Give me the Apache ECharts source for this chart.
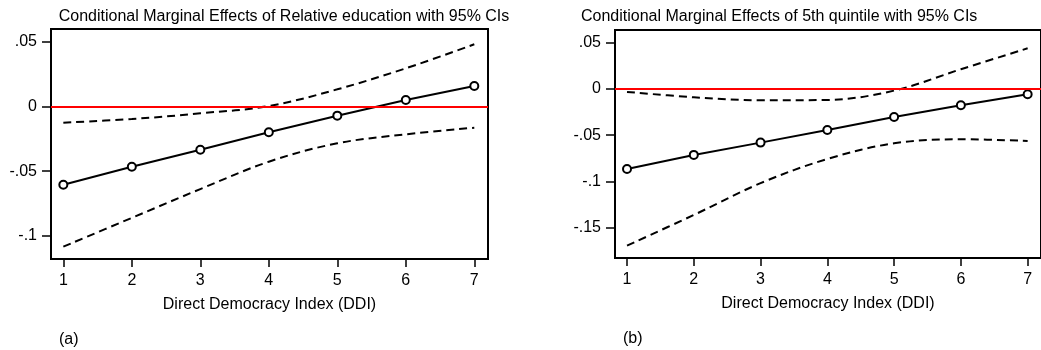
<!DOCTYPE html>
<html>
<head>
<meta charset="utf-8">
<script src="https://cdn.jsdelivr.net/npm/echarts@6/dist/echarts.min.js"></script>
<style>html,body{margin:0;padding:0;background:#fff}#c{width:1041px;height:350px}</style>
</head>
<body>
<div id="c"></div>
<script>
// DDI values (x)
const ddi = [1, 2, 3, 4, 5, 6, 7];
const xTicks = [1, 2, 3, 4, 5, 6, 7];

// Panel (a): Relative education
const titleA = "Conditional Marginal Effects of Relative education with 95% CIs";
const effectA = [-0.0605, -0.0466, -0.0335, -0.0200, -0.0072, 0.0049, 0.0157];
const upperA  = [-0.0126, -0.0098, -0.0054, 0.0002, 0.0131, 0.0293, 0.0478];
const lowerA  = [-0.1082, -0.0860, -0.0638, -0.0427, -0.0285, -0.0216, -0.0165];
const yTicksA = [-0.1, -0.05, 0, 0.05];

// Panel (b): 5th quintile
const titleB = "Conditional Marginal Effects of 5th quintile with 95% CIs";
const effectB = [-0.0866, -0.0714, -0.0581, -0.0444, -0.0303, -0.0177, -0.0058];
const upperB  = [-0.0032, -0.0090, -0.0123, -0.0119, -0.0018, 0.0213, 0.0440];
const lowerB  = [-0.1696, -0.1364, -0.1020, -0.0758, -0.0588, -0.0545, -0.0563];
const yTicksB = [-0.15, -0.1, -0.05, 0, 0.05];

const xName = "Direct Democracy Index (DDI)";
const refLine = 0;

const FONT = "Liberation Sans, Arial, sans-serif";
const FS = 16;
function fmt(v) {
  if (Math.abs(v) < 1e-9) return "0";
  let s = String(Math.round(v * 1000) / 1000);
  return s.replace(/^(-?)0\./, "$1.");
}
const pair = (xs, ys) => xs.map((x, i) => [x, ys[i]]);

function xAxis(gi) {
  return {
    type: "value", gridIndex: gi, min: 0.82, max: 7.2,
    name: xName, nameLocation: "middle", nameGap: 38,
    nameTextStyle: { fontFamily: FONT, fontSize: FS, color: "#000" },
    axisLine: { show: true, onZero: false, lineStyle: { color: "#000", width: 2 } },
    axisTick: { show: true, customValues: xTicks, length: 8, lineStyle: { color: "#000", width: 1.5 } },
    axisLabel: { customValues: xTicks, color: "#000", fontFamily: FONT, fontSize: FS, margin: 14 },
    splitLine: { show: false }
  };
}
function yAxis(gi, min, max, ticks) {
  return {
    type: "value", gridIndex: gi, min: min, max: max,
    axisLine: { show: true, onZero: false, lineStyle: { color: "#000", width: 2 } },
    axisTick: { show: true, customValues: ticks, length: 9, lineStyle: { color: "#000", width: 1.5 } },
    axisLabel: { customValues: ticks, formatter: fmt, color: "#000", fontFamily: FONT, fontSize: FS, margin: 14 },
    splitLine: { show: false }
  };
}
function seriesFor(gi, eff, up, lo) {
  const dashed = { color: "#000", width: 2, type: [8, 5] };
  return [
    { type: "line", xAxisIndex: gi, yAxisIndex: gi, data: pair(ddi, up), smooth: 0.35, symbol: "none",
      lineStyle: dashed, z: 3 },
    { type: "line", xAxisIndex: gi, yAxisIndex: gi, data: pair(ddi, lo), smooth: 0.35, symbol: "none",
      lineStyle: dashed, z: 3 },
    { type: "line", xAxisIndex: gi, yAxisIndex: gi, data: pair(ddi, eff), symbol: "circle", symbolSize: 8,
      itemStyle: { color: "#fff", borderColor: "#000", borderWidth: 2 },
      lineStyle: { color: "#000", width: 2 }, z: 4,
      markLine: { silent: true, symbol: "none", label: { show: false },
        lineStyle: { color: "#ff0000", width: 2, type: "solid" },
        data: [{ yAxis: refLine }] } }
  ];
}

const chart = echarts.init(document.getElementById("c"), null, { renderer: "canvas" });
const ts = { fontFamily: FONT, fontSize: FS, fontWeight: "normal", color: "#000" };
chart.setOption({
  animation: false,
  backgroundColor: "#fff",
  title: [
    { text: titleA, left: 279, textAlign: "center", top: 4, textStyle: ts },
    { text: titleB, left: 576, top: 4, textStyle: ts },
    { text: "(a)", left: 54, top: 327, textStyle: ts },
    { text: "(b)", left: 618, top: 326, textStyle: ts }
  ],
  grid: [
    { left: 51, top: 29, right: 553, bottom: 91, show: true, borderColor: "#000", borderWidth: 2, backgroundColor: "transparent" },
    { left: 615, top: 30, right: -6, bottom: 92, show: true, borderColor: "#000", borderWidth: 2, backgroundColor: "transparent" }
  ],
  xAxis: [xAxis(0), xAxis(1)],
  yAxis: [yAxis(0, -0.1177, 0.0596, yTicksA), yAxis(1, -0.183, 0.0638, yTicksB)],
  series: [...seriesFor(0, effectA, upperA, lowerA), ...seriesFor(1, effectB, upperB, lowerB)]
});
</script>
</body>
</html>
